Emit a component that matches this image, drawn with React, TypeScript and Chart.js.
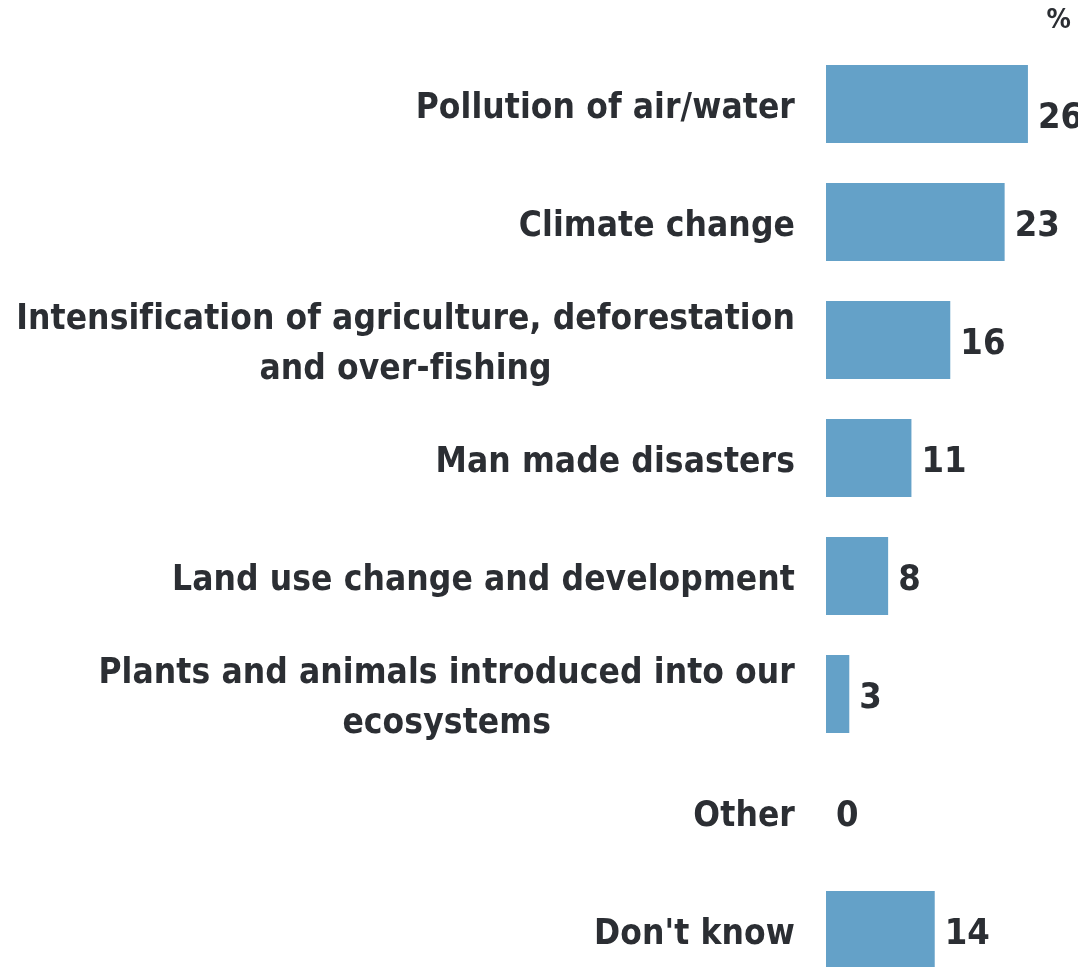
import React, { useEffect, useRef } from "react";
import { Chart, registerables } from "chart.js";

Chart.register(...registerables);

const categories: string[][] = [
  ["Pollution of air/water"],
  ["Climate change"],
  ["Intensification of agriculture, deforestation", "and over-fishing"],
  ["Man made disasters"],
  ["Land use change and development"],
  ["Plants and animals introduced into our", "ecosystems"],
  ["Other"],
  ["Don't know"],
];
const values: number[] = [26, 23, 16, 11, 8, 3, 0, 14];
const unitLabel = "%";

const BAR_COLOR = "#64A1C8";
const TEXT_COLOR = "#2B2E33";
const FAMILY = "'DejaVu Sans Condensed', 'DejaVu Sans'";
const FONT = `bold 35px ${FAMILY}`;
const VALUE_FONT = `bold 36px ${FAMILY}`;
const UNIT_FONT = `bold 27px ${FAMILY}`;

const labelPlugin = {
  id: "customLabels",
  afterDatasetsDraw(chart: any) {
    const ctx = chart.ctx;
    const yScale = chart.scales.y;
    const xScale = chart.scales.x;
    ctx.save();
    ctx.fillStyle = TEXT_COLOR;
    ctx.textBaseline = "alphabetic";
    try {
      ctx.letterSpacing = "0.1px";
    } catch (e) {}
    const lineH = 50;
    const rightEdge = chart.chartArea.left - 31;
    categories.forEach((lines, i) => {
      const yc = yScale.getPixelForValue(i);
      ctx.font = FONT;
      const maxW = Math.max(...lines.map((l) => ctx.measureText(l).width));
      const cx = rightEdge - maxW / 2;
      ctx.textAlign = "center";
      lines.forEach((l, j) => {
        const y = yc + (j - (lines.length - 1) / 2) * lineH + 14;
        ctx.fillText(l, cx, y);
      });
      ctx.font = VALUE_FONT;
      ctx.textAlign = "left";
      const xe = xScale.getPixelForValue(values[i]);
      const dy = i === 0 ? 24 : 14;
      ctx.fillText(String(values[i]), xe + 10, yc + dy);
    });
    ctx.font = UNIT_FONT;
    ctx.textAlign = "right";
    ctx.fillText(unitLabel, 1071, 28);
    ctx.restore();
  },
};

export default function App() {
  const ref = useRef<HTMLCanvasElement>(null);
  useEffect(() => {
    if (!ref.current) return;
    const chart = new Chart(ref.current, {
      type: "bar",
      data: {
        labels: categories.map((c) => c.join(" ")),
        datasets: [
          {
            data: values,
            backgroundColor: BAR_COLOR,
            barPercentage: 0.661,
            categoryPercentage: 1,
          },
        ],
      },
      options: {
        indexAxis: "y",
        responsive: false,
        animation: false,
        devicePixelRatio: 1,
        layout: { padding: { left: 826, right: 19, top: 45, bottom: 11 } },
        plugins: { legend: { display: false }, tooltip: { enabled: false } },
        scales: {
          x: { display: false, min: 0, max: 30 },
          y: { display: false, grid: { display: false } },
        },
      },
      plugins: [labelPlugin],
    });
    return () => chart.destroy();
  }, []);
  return (
    <div style={{ position: "absolute", left: 0, top: 0, width: 1078, height: 1000 }}>
      <canvas ref={ref} width={1078} height={1000} />
    </div>
  );
}
